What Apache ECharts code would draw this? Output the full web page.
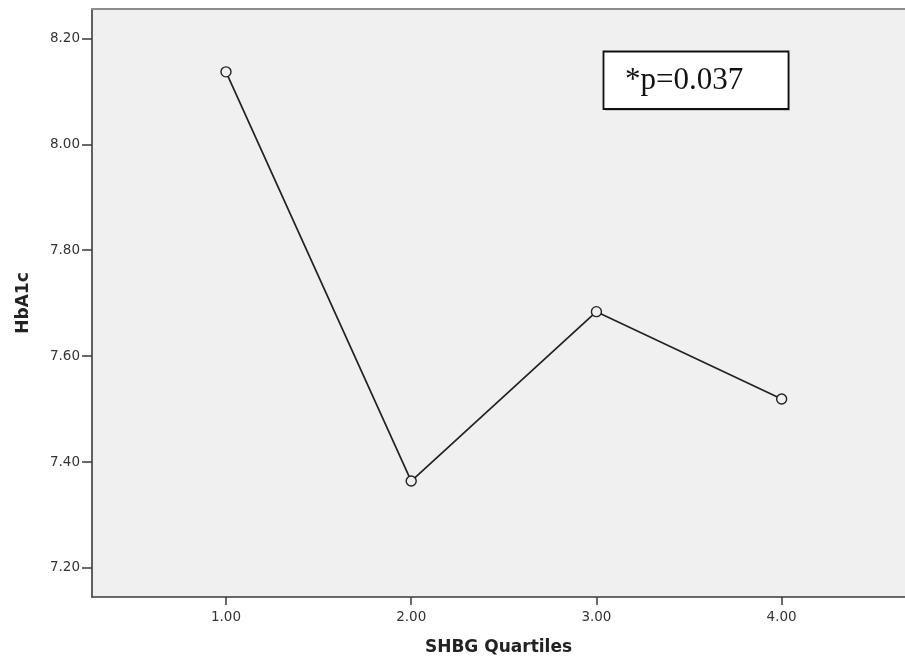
<!DOCTYPE html>
<html>
<head>
<meta charset="utf-8">
<script src="https://cdn.jsdelivr.net/npm/echarts@6/dist/echarts.min.js"></script>
<style>
html,body{margin:0;padding:0;background:#fff;overflow:hidden;}
#c{width:905px;height:661px;}
</style>
</head>
<body>
<div id="c"></div>
<script>
const quartiles = [1, 2, 3, 4];
const hba1c = [8.137, 7.364, 7.684, 7.519];
const xTicks = [1, 2, 3, 4];
const yTicks = [7.20, 7.40, 7.60, 7.80, 8.00, 8.20];
const xTitle = 'SHBG Quartiles';
const yTitle = 'HbA1c';
const annotation = '*p=0.037';

const chart = echarts.init(document.getElementById('c'), null, {renderer: 'canvas'});
const tickFont = {fontFamily: 'DejaVu Sans', fontSize: 13.5, color: '#333'};
const xMin = 0.2766, xMax = 4.666;
chart.setOption({
  backgroundColor: '#fff',
  animation: false,
  grid: {
    left: 92, top: 9, bottom: 61.5, right: 0,
    show: true, backgroundColor: '#f0f0f0', borderWidth: 0
  },
  xAxis: [{
    type: 'value', min: xMin, max: xMax,
    name: xTitle, nameLocation: 'middle', nameGap: 42,
    nameTextStyle: {fontFamily: 'DejaVu Sans', fontWeight: 'bold', fontSize: 17, color: '#222'},
    axisLine: {show: true, onZero: false, lineStyle: {color: '#3a3a3a', width: 1.6}},
    axisTick: {show: true, length: 8, customValues: xTicks, lineStyle: {color: '#3a3a3a', width: 1.5}},
    axisLabel: Object.assign({margin: 13, customValues: xTicks, formatter: v => v.toFixed(2)}, tickFont),
    splitLine: {show: false}
  }, {
    type: 'value', min: xMin, max: xMax, position: 'top',
    axisLine: {show: true, onZero: false, lineStyle: {color: '#8c8c8c', width: 2}},
    axisTick: {show: false}, axisLabel: {show: false}, splitLine: {show: false}
  }],
  yAxis: {
    type: 'value', min: 7.145, max: 8.2557,
    name: yTitle, nameLocation: 'middle', nameGap: 60, nameRotate: 90,
    nameTextStyle: {fontFamily: 'DejaVu Sans', fontWeight: 'bold', fontSize: 17, color: '#222'},
    axisLine: {show: true, onZero: false, lineStyle: {color: '#3a3a3a', width: 1.6}},
    axisTick: {show: true, length: 10, customValues: yTicks, lineStyle: {color: '#3a3a3a', width: 1.5}},
    axisLabel: Object.assign({margin: 12, customValues: yTicks, formatter: v => v.toFixed(2)}, tickFont),
    splitLine: {show: false}
  },
  series: [{
    type: 'line',
    xAxisIndex: 0,
    data: quartiles.map((q, i) => [q, hba1c[i]]),
    symbol: 'circle', symbolSize: 10,
    lineStyle: {color: '#222', width: 1.7},
    itemStyle: {color: '#f0f0f0', borderColor: '#222', borderWidth: 1.4},
    z: 3
  }],
  graphic: [
    {type: 'rect', shape: {x: 605, y: 53, width: 185, height: 58}, style: {fill: '#c8c8c8'}, z: 10},
    {type: 'rect', shape: {x: 603.5, y: 51.5, width: 185, height: 57.5},
     style: {fill: '#fff', stroke: '#111', lineWidth: 1.8}, z: 11},
    {type: 'text', x: 625, y: 81, z: 12,
     style: {text: annotation, font: '31px "Liberation Serif"', fill: '#111', textVerticalAlign: 'middle', textAlign: 'left'}}
  ]
});
</script>
</body>
</html>
